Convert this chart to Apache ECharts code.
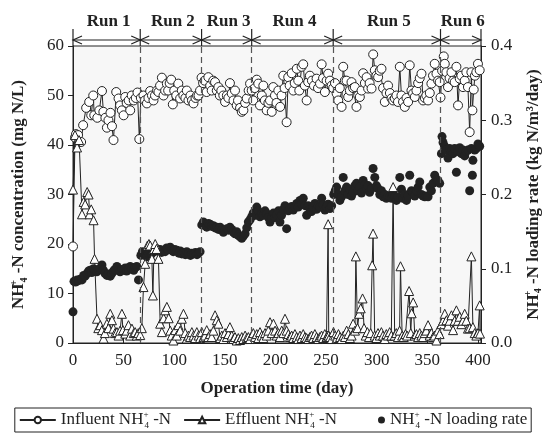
<!DOCTYPE html>
<html><head><meta charset="utf-8">
<script src="https://cdn.jsdelivr.net/npm/echarts/dist/echarts.min.js"></script>
<style>html,body{margin:0;padding:0;background:#fff}#c{width:546px;height:434px}</style>
</head><body><div id="c"></div><script>
// [day, mg N/L]
const influent = [[0,19.5],[2,41.5],[3,42.2],[5,42],[8,40.6],[10,44],[13,47.5],[16,48.7],[18,46],[20,50],[21,46],[24,45.5],[26,47],[28.6,50.9],[30,46.7],[32,45.5],[33.5,43.5],[35,45],[37,46.5],[38.5,43.8],[40,41],[42.7,50.7],[45,49.4],[46.5,48],[48.3,47],[50,46],[51.6,49.7],[53,48.5],[55,49],[56.5,47],[58,50],[60,49],[62,49.5],[63.7,50.6],[65.5,41.2],[67,49.5],[69.6,50],[71,49],[73,48.4],[74.5,49.5],[76.2,50.9],[78,50],[79.5,49],[81,50],[83,51],[84.4,50.7],[86,52],[87.8,53.6],[89.4,50],[91,51],[92.7,52.4],[94,51],[95.5,52.5],[97,53.2],[98.6,48.2],[100,51],[102,50],[104,52.4],[105.8,49.4],[107.5,51],[109,50],[111,49.5],[112.4,51],[114,49],[116,50],[117.5,49],[119,48.4],[121,49.5],[122.5,50],[124,50],[125.5,51],[127,53.6],[128.5,52.5],[130,53],[132,50.7],[133.7,53.7],[135.5,52],[137,51],[138.5,53],[140.3,52.7],[142,51],[143.6,51.7],[145,50],[146.5,51],[148.5,50],[150.2,48.7],[152,50],[153.5,49.5],[155,52.5],[156.8,50.4],[158.5,49],[160,51],[161.7,48],[163,49],[165,47.5],[166.7,46.7],[168.3,47],[170,48.5],[171.6,49.4],[173.5,51],[174.9,52.4],[176.5,51],[178,49],[179.5,51.5],[181.5,53.2],[183,52.4],[184.7,48],[186.5,50],[188,52],[189.5,49],[191.3,47],[193,48.5],[194.6,49],[196.3,46.7],[197.8,51.7],[199.5,50],[201,48.5],[202.8,51],[204.6,47.7],[206,50],[207.7,54],[209,51.5],[211,44.6],[212.6,53.7],[214,52],[216,54.5],[217.6,51],[219,52.5],[221,55.4],[222.5,53],[223.5,51],[225.8,55.8],[227.4,56.3],[229,52],[230.8,49],[232.3,52.7],[234,54],[236,53],[238,52],[240.6,53.4],[242,51.5],[244,52.4],[245.6,56.3],[247,53.5],[248.8,50.7],[250.5,53],[252,54.4],[253.8,53],[255.5,52],[257,51.5],[258.8,52.5],[260.4,50.4],[262,49],[263.5,51.5],[265.3,47.7],[266.9,55.8],[268.5,53],[270.2,53],[271.8,49.7],[273.5,51],[275.1,52.7],[276.7,51.5],[278.4,51.7],[280,47.7],[281.7,50],[283.3,49.7],[285,51],[286.6,54.5],[288.3,52.5],[290,53.7],[291.5,51.4],[293,52.5],[294.9,51.4],[296.5,58.3],[298.1,55.1],[299.7,54],[301.4,53.7],[303,55],[304.7,55.4],[306.3,51.5],[308,48.7],[309.6,50.5],[311.2,52],[313,50.5],[314.6,49.4],[316.2,49],[317.9,49.4],[319.5,50],[321,48.7],[322.8,55.8],[324.4,50],[326,48.7],[327.7,47.7],[329.4,49.5],[331,48.7],[332.6,56.1],[334.3,51],[335.9,50.4],[337.6,49.7],[339.2,51],[340.9,52.5],[342.5,53.5],[344.2,54.4],[345.8,49],[347.5,49.5],[349,50],[350.7,49],[352.4,50.5],[354,52.4],[355.6,54],[357.3,56.4],[359,54.4],[360.6,53],[362.2,52.7],[363,49.6],[364.6,55],[366.2,57.9],[367.2,56.4],[368.8,54.7],[370.4,51.7],[372,53.5],[373.8,54.7],[375.4,53],[377,52.7],[378.7,55.8],[380.3,48],[382,53.4],[383.6,54],[385.2,51.7],[386.9,53],[388.5,54.7],[390.1,51.7],[391.8,42.6],[393.5,54.7],[394.5,47],[395.8,51.2],[397,54],[398.4,54.7],[400,56.4],[401.7,55.1]];
// [day, mg N/L]
const effluent = [[0,31],[2,42],[4,39.5],[6,41],[8.9,26],[10.5,28.5],[12,28],[14,30.5],[15.4,30],[16.4,26],[18,27],[20.3,24.8],[21.3,17],[23.7,4.9],[25,3],[26.9,3.6],[28.6,2.6],[30.2,0.9],[31.5,2],[33.5,3.9],[35,3],[36.8,5.9],[38.5,4.6],[40,2.9],[41.5,2],[43.4,2.2],[45,1.5],[46.5,2.5],[48.3,5.9],[49.3,2.6],[51.6,1.9],[53,2.5],[54.8,3.6],[56.5,1.5],[58.2,2.9],[60,2],[61.4,2.2],[63,1.5],[64.5,2],[66.4,1.6],[68,3],[69.6,11.3],[71.3,16],[73.6,19.7],[75,20],[76.2,19.7],[77.9,17],[78.9,9.6],[80,19],[81.2,20],[82.5,19],[84.4,17],[86.1,3.9],[87.8,2.2],[89.5,5],[91,6.6],[92.7,7.3],[94.5,5],[96,2.5],[97.5,1.5],[99.2,0.5],[100.9,2.6],[102.5,1.5],[104.1,3.6],[105.8,2.5],[107.5,4.9],[109.1,5.9],[110.8,2],[112.4,0.9],[114,1.5],[115.7,1.2],[117.4,2.2],[119,1.5],[120.6,1],[122.3,2.2],[124,1.5],[125.5,1],[127.2,2.2],[128.8,1.2],[130.4,1.5],[132.1,2.6],[133.7,1.2],[135.4,1.8],[137,1.2],[138.7,2.5],[140.3,5.6],[142,4.6],[143.6,3.9],[145.3,1],[147,1.5],[148.6,0.8],[150.2,2],[151.9,1.2],[153.5,1.8],[155,3.2],[156.8,1.5],[158.4,0.8],[160,1.2],[161.7,0.5],[163.3,1],[165,0.6],[166.7,1.2],[168.3,0.8],[170,1.5],[171.6,1],[173.2,1.2],[174.9,0.8],[176.5,1.5],[178.1,2],[179.8,1.2],[181.5,1.8],[183.1,1],[184.7,2.2],[186.4,1.5],[188,1],[189.7,2],[191.3,1.5],[193,2.5],[194.6,4.2],[196.3,2],[198,3.9],[199.6,2.5],[201.2,1.5],[202.9,2],[204.5,1.2],[206.2,2.5],[207.8,2],[209.4,4.9],[211,2.5],[212.7,1.8],[214.3,1.2],[216,1.5],[217.6,1],[219.2,1.8],[220.9,1.2],[222.5,0.8],[224.2,1.5],[225.8,1],[227.4,1.8],[229.1,1.2],[230.7,1],[232.4,0.8],[234,1.2],[235.6,1.5],[237.3,1],[238.9,1.8],[240.6,1.2],[242.2,0.8],[243.8,1.2],[245.5,1.5],[247.1,1],[248.7,1.8],[250.4,1.2],[251.5,1.5],[252,24],[252.6,1.5],[254,1.2],[255.6,0.8],[257.3,2.2],[258.9,1.5],[260.5,1],[262.2,1.8],[263.8,1.2],[265.4,0.8],[267.1,1.5],[268.7,1.2],[270.3,2.5],[272,1.8],[273.6,1],[275.2,1.5],[276.7,3.9],[278.5,2.5],[279.4,17.5],[281,3],[282.6,5.9],[284.2,7],[286,9],[287.5,3],[289.1,1.5],[290.8,2.2],[292.4,1.2],[294,2],[295.5,15.7],[296.4,22.1],[298,1.5],[299.7,1],[301.3,2],[303,1.5],[304.6,2.2],[306.2,1.5],[307.9,0.8],[309.5,1.8],[311.1,1.5],[312.8,2.2],[314.4,1.5],[316.2,31.5],[317.7,1.5],[319.3,2],[321,1.2],[322.6,2.5],[323.5,15.5],[325.1,1.5],[326.7,1.2],[328.4,1.8],[330,1.5],[332,10.5],[333.6,2],[334.5,6],[336,8.2],[337.6,1.5],[339.2,1.8],[340.9,1.2],[342.5,2],[344.1,1.5],[345.8,1.2],[347.4,2],[349,2.5],[350.7,3.6],[352.3,1.5],[354,2],[355.6,1.2],[357.2,1.5],[359,0.5],[360.5,2.5],[362.1,1.8],[364,3.8],[365.5,4.5],[367.2,5.9],[368.8,4.6],[370.4,3.5],[372,4.5],[373.8,5.6],[375.4,2.6],[377,4.5],[378.7,6.6],[380.3,4.5],[382,5.3],[383.6,3.8],[385.2,4.5],[386.9,5.9],[388.5,4.5],[390.1,2.9],[391.8,3],[393.5,17.5],[395,3.2],[396.8,2],[398.4,1.5],[400,2],[401.7,7.6],[402,1.9]];
// [day, kg N/m3/day]
const loadingRate = [[0,0.042],[1,0.083],[2.5,0.082],[4,0.085],[5.5,0.084],[7,0.086],[8.9,0.085],[10.5,0.091],[12,0.09],[14,0.094],[15.5,0.097],[17,0.098],[18.5,0.095],[20.3,0.1],[22,0.097],[23.5,0.096],[25,0.099],[27,0.1],[28.6,0.105],[30,0.098],[31.5,0.094],[33.5,0.091],[35,0.093],[36.8,0.09],[38.5,0.094],[40,0.097],[41.5,0.099],[43.4,0.103],[45,0.098],[46.5,0.096],[48.3,0.099],[50,0.098],[51.6,0.101],[53,0.097],[54.8,0.099],[56.5,0.103],[58.2,0.1],[60,0.098],[61.5,0.102],[63,0.103],[64.7,0.085],
[67,0.118],[68.5,0.123],[70,0.12],[71.5,0.118],[73,0.116],[74.5,0.121],[76,0.124],[77.5,0.12],[79,0.125],[80.5,0.123],[82.8,0.127],[84.5,0.124],[86,0.126],[87.5,0.122],[89,0.125],[91,0.123],[92.5,0.128],[94,0.126],[96,0.129],[97.5,0.125],[99,0.123],[100.5,0.126],[102.6,0.125],[104.5,0.121],[106,0.124],[107.5,0.12],[109.5,0.122],[111,0.119],[112.4,0.123],[114,0.12],[116,0.118],[117.5,0.121],[119,0.12],[121,0.122],[122.5,0.119],[124,0.121],[125.5,0.123],
[127.2,0.159],[128.8,0.163],[130.4,0.158],[132.1,0.156],[133.7,0.161],[135.4,0.16],[137,0.157],[138.7,0.158],[140.3,0.155],[142,0.156],[143.6,0.153],[145.3,0.156],[147,0.152],[148.5,0.149],[150.2,0.152],[151.9,0.154],[153.5,0.152],[155,0.156],[156.8,0.153],[158.4,0.149],[160,0.147],[161.7,0.15],[163.3,0.145],[165,0.143],[166.7,0.141],[168.3,0.144],[170,0.147],[171.6,0.155],[173.2,0.163],[174.9,0.166],
[176.5,0.17],[178,0.175],[179.8,0.172],[181.5,0.183],[183,0.178],[184.7,0.17],[186.4,0.174],[188,0.172],[189.7,0.178],[191.3,0.174],[193,0.169],[194.6,0.163],[196.3,0.168],[198,0.175],[199.6,0.169],[201.2,0.172],[202.9,0.178],[204.4,0.163],[206,0.172],[207.8,0.18],[209.4,0.185],[211,0.154],[212.7,0.178],[214.3,0.181],[216,0.184],[217.6,0.179],[219.2,0.183],[221,0.188],[222.5,0.183],[224.2,0.192],[225.8,0.187],[227.4,0.195],[229.1,0.185],[230.8,0.172],[232.4,0.185],[234,0.18],[235.6,0.177],[237.3,0.183],[239,0.188],[240.6,0.18],[242.2,0.185],[243.8,0.183],[245.6,0.195],[247.1,0.186],[248.8,0.179],[250.4,0.183],[252,0.187],[253.8,0.181],[255.5,0.185],
[257.5,0.2],[259,0.205],[260.4,0.21],[262,0.2],[263.6,0.192],[265.3,0.197],[266.9,0.223],[268.5,0.205],[270.2,0.21],[271.8,0.2],[273.5,0.207],[275.1,0.198],[276.7,0.203],[278.4,0.212],[280,0.215],[281.7,0.205],[283.3,0.21],[285,0.202],[286.6,0.219],[288.3,0.213],[290,0.208],[291.5,0.212],[293,0.203],[294.9,0.208],[296.4,0.235],[298.1,0.223],[299.7,0.212],[301.4,0.208],[303,0.2],[304.7,0.205],[306.3,0.197],[308,0.2],[309.6,0.195],[311.2,0.198],[313,0.197],[314.6,0.195],[316.2,0.2],[317.9,0.197],[319.5,0.192],[321,0.197],[322.8,0.223],[324.4,0.207],[326,0.195],[327.7,0.2],[329.4,0.192],[331,0.198],[332.6,0.226],[334.3,0.205],[335.9,0.203],[337.6,0.198],[339.2,0.205],[340.9,0.21],[342.5,0.217],[344.2,0.2],[345.8,0.198],[347.5,0.197],[349,0.198],[350.7,0.197],[352.4,0.21],[354,0.205],[355.6,0.215],[357.3,0.226],[359,0.22],[360.5,0.219],[362.2,0.215],
[363.9,0.255],[364.5,0.278],[365.5,0.27],[367,0.265],[368.5,0.26],[370.4,0.249],[372,0.262],[373.8,0.258],[375.4,0.255],[377,0.262],[378.7,0.23],[380.3,0.258],[382,0.263],[383.6,0.255],[385.2,0.26],[386.9,0.252],[388.5,0.258],[390.1,0.26],[391.8,0.205],[393.5,0.262],[394.5,0.226],[395,0.246],[396.8,0.26],[398.4,0.262],[400,0.268],[401.7,0.265]];
const runBounds = [0, 66.4, 127, 176.5, 257, 363, 403];
const runLabels = ['Run 1','Run 2','Run 3','Run 4','Run 5','Run 6'];
const xTickLabels = [0, 50, 100, 150, 200, 250, 300, 350, 400];
const leftTickLabels = [0, 10, 20, 30, 40, 50, 60];
const rightTickLabels = [0.0, 0.1, 0.2, 0.3, 0.4];

const FONT = 'Liberation Serif';
const INK = '#222';
const chart = echarts.init(document.getElementById('c'), null, {renderer: 'canvas'});

const nameRich = {
  b: {fontFamily: FONT, fontWeight: 'bold', fontSize: 17, color: INK, lineHeight: 20},
  sp: {fontFamily: FONT, fontWeight: 'bold', fontSize: 10, color: INK, lineHeight: 10, verticalAlign: 'top', width: 1},
  sb: {fontFamily: FONT, fontWeight: 'bold', fontSize: 10, color: INK, lineHeight: 10, verticalAlign: 'bottom'}
};
const legRich = {
  r: {fontFamily: FONT, fontSize: 17, color: INK, lineHeight: 20},
  sp: {fontFamily: FONT, fontSize: 9, color: INK, lineHeight: 9, verticalAlign: 'top', width: 1},
  sb: {fontFamily: FONT, fontSize: 9, color: INK, lineHeight: 9, verticalAlign: 'bottom'}
};
const legendNames = {
  'Influent': '{r|Influent NH}{sp|+}{sb|4}{r| -N}',
  'Effluent': '{r|Effluent NH}{sp|+}{sb|4}{r| -N}',
  'Loading': '{r|NH}{sp|+}{sb|4}{r| -N loading rate}'
};

const option = {
  animation: false,
  backgroundColor: '#fff',
  textStyle: {fontFamily: FONT},
  grid: {left: 73, right: 65, top: 46, bottom: 91, show: true, backgroundColor: '#f7f7f7', borderColor: INK, borderWidth: 1, outerBoundsMode: 'none'},
  legend: {
    bottom: 2, left: 'center', orient: 'horizontal',
    data: [
      {name: 'Influent'},
      {name: 'Effluent'},
      {name: 'Loading', icon: 'path://M0,0 M36,8 M29,4 A3.5,3.5 0 1 1 36,4 A3.5,3.5 0 1 1 29,4 Z'}
    ],
    formatter: n => legendNames[n],
    textStyle: {rich: legRich, fontFamily: FONT, fontSize: 17, color: INK},
    itemWidth: 36, itemHeight: 8, itemGap: 12,
    borderColor: INK, borderWidth: 1, padding: [2, 4, 2, 4], borderRadius: 0
  },
  xAxis: {
    type: 'value', min: 0, max: 403, interval: 50,
    name: 'Operation time (day)', nameLocation: 'middle', nameGap: 37,
    nameTextStyle: {fontFamily: FONT, fontWeight: 'bold', fontSize: 17, color: INK},
    axisLine: {show: true, lineStyle: {color: INK, width: 1}},
    axisTick: {show: true, inside: true, length: 5, lineStyle: {color: INK}},
    axisLabel: {fontFamily: FONT, fontSize: 17, color: INK, margin: 9, showMaxLabel: false,
      formatter: v => xTickLabels.indexOf(v) >= 0 ? String(v) : ''},
    splitLine: {show: false}
  },
  yAxis: [{
    type: 'value', min: 0, max: 60, interval: 10, position: 'left',
    name: '{b|NH}{sp|+}{sb|4}{b| -N concentration (mg N/L)}', nameLocation: 'middle', nameGap: 44, nameRotate: 90,
    nameTextStyle: {rich: nameRich, fontFamily: FONT, fontWeight: 'bold', fontSize: 17, color: INK},
    axisLine: {show: true, lineStyle: {color: INK, width: 1}},
    axisTick: {show: true, inside: false, length: 5, lineStyle: {color: INK}},
    axisLabel: {fontFamily: FONT, fontSize: 17, color: INK, margin: 9,
      formatter: v => leftTickLabels.indexOf(v) >= 0 ? String(v) : ''},
    splitLine: {show: false}
  }, {
    type: 'value', min: 0, max: 0.4, interval: 0.1, position: 'right',
    name: '{b|NH}{sp|+}{sb|4}{b| -N loading rate (kg N/m³/day)}', nameLocation: 'middle', nameGap: 42, nameRotate: 90,
    nameTextStyle: {rich: nameRich, fontFamily: FONT, fontWeight: 'bold', fontSize: 17, color: INK},
    axisLine: {show: true, lineStyle: {color: INK, width: 1}},
    axisTick: {show: true, inside: false, length: 5, lineStyle: {color: INK}},
    axisLabel: {fontFamily: FONT, fontSize: 17, color: INK, margin: 10,
      formatter: v => rightTickLabels.some(t => Math.abs(t - v) < 1e-9) ? v.toFixed(1) : ''},
    splitLine: {show: false}
  }],
  series: [{
    name: 'Loading', type: 'scatter', yAxisIndex: 1, data: loadingRate,
    symbol: 'circle', symbolSize: 9, itemStyle: {color: INK, opacity: 1}, z: 2
  }, {
    name: 'Influent', type: 'line', yAxisIndex: 0, data: influent,
    symbol: 'circle', symbolSize: 9, showAllSymbol: true,
    itemStyle: {color: '#fff', borderColor: INK, borderWidth: 1},
    lineStyle: {color: INK, width: 1}, z: 3,
    markLine: {
      silent: true, symbol: ['none', 'none'], label: {show: false},
      lineStyle: {color: '#555', type: [6, 4], width: 1.2},
      data: runBounds.slice(1, -1).map(d => ({xAxis: d}))
    }
  }, {
    name: 'Effluent', type: 'line', yAxisIndex: 0, data: effluent,
    symbol: 'triangle', symbolSize: 9, showAllSymbol: true,
    itemStyle: {color: '#fff', borderColor: INK, borderWidth: 1},
    lineStyle: {color: INK, width: 1}, z: 4
  }]
};
chart.setOption(option);

// Run annotation above the plot, positioned with the chart's own x scale
const topY = chart.convertToPixel({yAxisIndex: 0}, 60);
const lineY = topY - 6;
const gfx = [];
const px = runBounds.map(d => chart.convertToPixel({xAxisIndex: 0}, d));
gfx.push({type: 'line', shape: {x1: px[0], y1: lineY, x2: px[px.length - 1], y2: lineY}, style: {stroke: INK, lineWidth: 1.2}});
px.forEach(x => gfx.push({type: 'line', shape: {x1: x, y1: topY - 17, x2: x, y2: topY}, style: {stroke: INK, lineWidth: 1.2}}));
for (let i = 0; i < runLabels.length; i++) {
  const a = px[i], b = px[i + 1];
  gfx.push({type: 'polyline', shape: {points: [[a + 9, lineY - 4], [a, lineY], [a + 9, lineY + 4]]}, style: {stroke: INK, fill: null, lineWidth: 1.2}});
  gfx.push({type: 'polyline', shape: {points: [[b - 9, lineY - 4], [b, lineY], [b - 9, lineY + 4]]}, style: {stroke: INK, fill: null, lineWidth: 1.2}});
  gfx.push({type: 'text', x: (a + b) / 2 + 2, y: topY - 24, style: {text: runLabels[i], fontFamily: FONT, fontWeight: 'bold', fontSize: 17, fill: INK, textAlign: 'center', textVerticalAlign: 'middle', align: 'center', verticalAlign: 'middle'}});
}
chart.setOption({graphic: gfx});
</script></body></html>
